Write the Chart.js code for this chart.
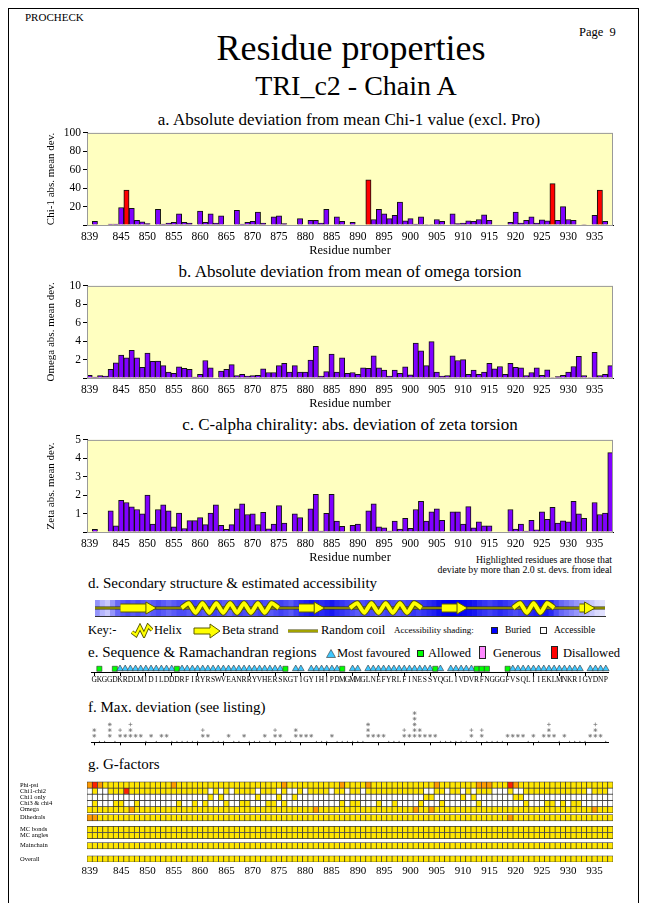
<!DOCTYPE html>
<html>
<head>
<meta charset="utf-8">
<script src="https://cdn.jsdelivr.net/npm/chart.js@4.4.0/dist/chart.umd.min.js"></script>
<style>
body { margin: 0; background: #fff; width: 645px; height: 903px; position: relative; overflow: hidden; font-family: 'Liberation Serif', 'Times New Roman', serif; }
.t { position: absolute; white-space: nowrap; line-height: 1; color: #000; }
.c { transform: translateX(-50%); }
.r { transform: translateX(-100%); }
canvas, svg { position: absolute; }
#frame { position: absolute; left: 8px; top: 8px; width: 629px; height: 900px; border: 1px solid #000; }
.sq { position: absolute; border: 1px solid #222; box-sizing: border-box; }
</style>
</head>
<body>
<div id="frame"></div>
<div class="t" style="left:25px;top:12px;font-size:11px">PROCHECK</div>
<div class="t" style="left:579px;top:26px;font-size:12.5px">Page&nbsp;&nbsp;9</div>
<div class="t c" style="left:351px;top:30px;font-size:36px">Residue properties</div>
<div class="t c" style="left:356px;top:72px;font-size:28px">TRI_c2 - Chain A</div>

<div class="t c" style="left:349px;top:111px;font-size:17px">a. Absolute deviation from mean Chi-1 value (excl. Pro)</div>
<div class="t c" style="left:350px;top:263px;font-size:17px">b. Absolute deviation from mean of omega torsion</div>
<div class="t c" style="left:350px;top:416px;font-size:17px">c. C-alpha chirality: abs. deviation of zeta torsion</div>
<div class="t r" style="left:612px;top:555px;font-size:9.8px">Highlighted residues are those that</div>
<div class="t r" style="left:612px;top:565px;font-size:9.8px">deviate by more than 2.0 st. devs. from ideal</div>

<div class="t" style="left:88px;top:576px;font-size:15px">d. Secondary structure &amp; estimated accessibility</div>
<div class="t" style="left:88px;top:624px;font-size:12.5px">Key:-</div>
<svg style="left:131px;top:623px" width="22" height="15"><polyline points="1,9 5,12 9,4 13,12 17,3 21,7" fill="none" stroke="#5a5a00" stroke-width="4"/><polyline points="1,9 5,12 9,4 13,12 17,3 21,7" fill="none" stroke="#ffff00" stroke-width="2.2"/></svg>
<div class="t" style="left:154px;top:624px;font-size:12.5px">Helix</div>
<svg style="left:193px;top:623px" width="28" height="16"><polygon points="1,5 17,5 17,1 27,8 17,15 17,11 1,11" fill="#ffff00" stroke="#5a5a00" stroke-width="1"/></svg>
<div class="t" style="left:222px;top:624px;font-size:12.5px">Beta strand</div>
<svg style="left:288px;top:627px" width="32" height="8"><line x1="0" y1="4" x2="30" y2="4" stroke="#444400" stroke-width="3"/><line x1="0" y1="4" x2="30" y2="4" stroke="#ffff00" stroke-width="1"/></svg>
<div class="t" style="left:321px;top:624px;font-size:12.5px">Random coil</div>
<div class="t" style="left:394px;top:626px;font-size:9px">Accessibility shading:</div>
<div class="sq" style="left:491px;top:627px;width:7px;height:7px;background:#0000ff"></div>
<div class="t" style="left:505px;top:626px;font-size:9.5px">Buried</div>
<div class="sq" style="left:540px;top:627px;width:7px;height:7px;background:#fff"></div>
<div class="t" style="left:554px;top:626px;font-size:9.5px">Accessible</div>

<div class="t" style="left:88px;top:645px;font-size:15px">e. Sequence &amp; Ramachandran regions</div>
<svg style="left:326px;top:649px" width="10" height="9"><polygon points="5,0.5 9.5,8.5 0.5,8.5" fill="#40c8ff" stroke="#333" stroke-width="0.6"/></svg>
<div class="t" style="left:337px;top:647px;font-size:12.5px">Most favoured</div>
<div class="sq" style="left:417px;top:650px;width:7px;height:7px;background:#00ff00"></div>
<div class="t" style="left:428px;top:647px;font-size:12.5px">Allowed</div>
<div class="sq" style="left:479px;top:646px;width:7px;height:13px;background:#ff88ff"></div>
<div class="t" style="left:493px;top:647px;font-size:12.5px">Generous</div>
<div class="sq" style="left:551px;top:646px;width:7px;height:13px;background:#ff0000"></div>
<div class="t" style="left:563px;top:647px;font-size:12.5px">Disallowed</div>

<div class="t" style="left:88px;top:700px;font-size:15px">f. Max. deviation (see listing)</div>
<div class="t" style="left:88px;top:757px;font-size:15px">g. G-factors</div>

<script>
// residue numbers 839..938
const residues = Array.from({length: 100}, (_, i) => 839 + i);
const xTickLabels = [839, 845, 850, 855, 860, 865, 870, 875, 880, 885, 890, 895, 900, 905, 910, 915, 920, 925, 930, 935];

// a. chi-1 abs deviation
const chi1Dev = [
  null, 4, null, null, 1, 1, 19, 38, 18, 5,
  3.5, 1.5, null, 17, 1, 2, 3, 12, 3, 2,
  null, 15, 3, 12, 2, 10, null, null, 16, 1,
  3, 4, 14, 2, null, 9, 10, 1.5, null, null,
  7, null, 5, 5, 2, 17, null, 9, 4, null,
  3, null, null, 49, 6, 17, 12, 7, 10.5, 25,
  4.5, 7, 1, 9, 0.5, 0.5, 6, 4, null, 12,
  1.5, 2, 4.5, 4, 6, 11, 5, null, null, null,
  3, 14, 2, 5, 9, 2, 5.5, 4.5, 45, 5,
  20, 6, 5, null, 0.5, null, 10.5, 38, 4, null
];
const chi1Outliers = [846, 892, 927, 936];

// b. omega abs deviation
const omegaDev = [
  0.3, 0.1, 0.25, 0.2, 0.95, 1.65, 2.5, 2.2, 3.0, 2.2,
  1.15, 2.7, 1.8, 1.85, 1.35, 0.65, 0.5, 1.2, 1.05, 0.95,
  0.1, 0.4, 1.9, 1.1, 0, 0.75, 0.95, 1.45, 0.25, 0.4,
  0.2, 0.25, 0.3, 1.0, 0.6, 0.6, 1.35, 1.6, 0.65, 1.35,
  0.65, 0.65, 1.95, 3.45, 0.2, 0.7, 2.6, 0.65, 2.2, 0.5,
  0.6, 0.4, 1.1, 1.05, 2.4, 1.1, 0.85, 0.2, 0.85, 0.5,
  1.2, 0.35, 3.8, 2.95, 1.35, 3.95, 0.65, 0.2, 0.25, 2.4,
  1.9, 2.0, 0.4, 0.85, 0.4, 0.65, 1.6, 1.0, 1.25, 0.4,
  1.6, 1.15, 1.1, 0.25, 0.6, 1.1, 0.3, 0.9, 0.05, 0.15,
  0.3, 0.65, 1.25, 2.35, 0.25, 0.05, 2.8, 0.25, 0.4, 1.35
];

// c. zeta abs deviation
const zetaDev = [
  null, 0.15, null, null, 1.15, 0.33, 1.72, 1.6, 1.36, 1.22,
  0.98, 2.0, 0.43, 1.22, 1.47, 1.15, 0.28, 1.03, 0.19, 0.62,
  0.62, 0.78, 0.4, 1.03, 1.47, 0.36, 0.14, 0.4, 1.26, 1.53,
  0.95, 0.98, 0.4, 1.07, 0.17, 0.43, 1.43, 0.48, null, 0.98,
  0.78, null, 1.26, 2.05, 0.05, 1.02, 2.05, 0.59, 0.31, null,
  0.36, 0.43, null, 1.15, 1.53, 0.28, 0.22, 0.05, 0.59, 0.16,
  0.74, 0.2, 1.22, 1.67, 0.59, 1.1, 1.26, 0.64, null, 1.1,
  1.1, 0.43, 1.38, 0.22, 0.55, 0.34, 0.34, null, null, null,
  1.22, 0.16, 0.43, 0.05, 0.64, 0.12, 1.1, 0.69, 1.34, 0.48,
  0.6, 0.55, 1.67, 0.98, 0.74, null, 1.6, 0.95, 1.03, 4.31
];

// d. secondary structure and accessibility (0 buried .. 1 accessible)
const helices = [[856, 874], [889, 902], [921, 928]];
const strands = [[844, 850], [879, 883], [907, 911], [934, 936]];
const accessibility = [
  0.7, 0.8, 0.85, 0.7, 0.55, 0.5, 0.45, 0.5, 0.45, 0.5,
  0.55, 0.5, 0.45, 0.5, 0.55, 0.5, 0.45, 0.45, 0.5, 0.4,
  0.45, 0.5, 0.45, 0.4, 0.45, 0.5, 0.55, 0.45, 0.4, 0.45,
  0.5, 0.45, 0.4, 0.45, 0.5, 0.45, 0.4, 0.45, 0.5, 0.4,
  0.3, 0.25, 0.2, 0.25, 0.3, 0.25, 0.2, 0.3, 0.35, 0.4,
  0.45, 0.5, 0.45, 0.4, 0.45, 0.5, 0.45, 0.4, 0.45, 0.5,
  0.45, 0.4, 0.35, 0.4, 0.35, 0.3, 0.25, 0.15, 0.05, 0.0,
  0.0, 0.05, 0.1, 0.15, 0.2, 0.3, 0.35, 0.4, 0.35, 0.3,
  0.35, 0.4, 0.45, 0.4, 0.35, 0.3, 0.25, 0.2, 0.2, 0.3,
  0.45, 0.55, 0.6, 0.65, 0.7, 0.75, 0.8, 0.85, 0.9, 0.92
];

// e. sequence and Ramachandran regions (F favoured, A allowed, - none)
const sequence = 'GKGGDKRDLMIDILDDDRFIRYRSWVEANRRYVHERSKGTIGYIHIPDMGMMGLNEFYRLFINESSYQGLIVDVRFNGGGFVSQLIIEKLMNKRIGYDNP'.split('');
const ramaRegion = ('-A--AFFFFF' + 'FFFFFFAFFF' + 'FFFFFFFFFF' + 'FFFFFFFA-F' + 'F-FFFFFFA-' +
                    'FF-FFFFFFF' + 'FFFFFFAF-F' + 'FFFFAAA---' + 'AFFFFFFFFF' + 'FFFFF-FFFF').split('');

// f. max deviation (number of stacked symbols)
const maxDevLevel = [
  2, 0, 0, 3, 0, 2, 1, 3, 1, 1,
  0, 1, 0, 1, 1, 0, 0, 0, 0, 0,
  0, 2, 1, 0, 0, 0, 1, 0, 0, 1,
  0, 0, 0, 1, 0, 2, 1, 0, 0, 2,
  1, 1, 1, 0, 0, 0, 1, 0, 0, 0,
  0, 0, 0, 3, 1, 1, 1, 0, 0, 0,
  2, 1, 5, 2, 1, 1, 1, 0, 0, 0,
  0, 0, 0, 2, 0, 2, 0, 0, 0, 0,
  1, 1, 1, 1, 0, 1, 0, 1, 3, 1,
  0, 1, 0, 0, 0, 0, 1, 3, 1, 0
];
const maxDevPlus = [844, 846, 860, 874, 899, 912, 914, 927, 936];

// g. G-factors (y good, o poor, r bad, w not applicable)
const gRowNames = ['Phi-psi', 'Chi1-chi2', 'Chi1 only', 'Chi3 & chi4', 'Omega', 'Dihedrals', 'MC bonds', 'MC angles', 'Mainchain', 'Overall'];
const gPhiPsi   = 'oroyyyyyyy' + 'yyyyyyoyyy' + 'yyyyyyyyyy' + 'yyyyyyyoyy' + 'yyyyyyyyoy' + 'yyyoyyyyyy' + 'yyyyyyoyyy' + 'yyyyoooyyy' + 'royyyyyyyy' + 'yyyyyyyyyy';
const gChi12    = 'wywwyyyryy' + 'yyyyyyyyyy' + 'yyywywywyy' + 'yywyyywyww' + 'ywyyyywyyw' + 'yywyyyyyyy' + 'yyyywwyywy' + 'ywywyyywww' + 'ywwyyyyyyy' + 'yyyyywyyyw';
const gChi1     = 'wwwwwwwwww' + 'wwwwwwwwww' + 'wwwywywwww' + 'wwywwwywwy' + 'wwwwwwwwww' + 'wwwwwwwwww' + 'wwwwyywwww' + 'wywywwwwww' + 'wyywwwwwww' + 'wwwwwwwwww';
const gChi34    = 'wywwwyywwy' + 'wwwwwwwyww' + 'ywywwwywwy' + 'ywwwyywyww' + 'wwwwwwwwyw' + 'yywwwywwyw' + 'wwwywwwyww' + 'wwwwywwwww' + 'wwwywwwyyw' + 'ywyywwwwww';
const gOmega    = 'yyyyyyyyoy' + 'yyyyyyyyyy' + 'yyyyyyyyyy' + 'yyyyyyyyyy' + 'yyyoyyyyyy' + 'yyyyyyyyyy' + 'yyoyyoyyyy' + 'yyyyyyyyyy' + 'yyyyyyyyyy' + 'yyyyyyoyyy';
const gDihed    = 'ooyyyyyyyy' + 'yyyyyyyyyy' + 'yyyyyyyyyy' + 'yyyyyyyyyy' + 'yyyyyyyyyy' + 'yyyyyyyyyy' + 'yyyyyyyyyy' + 'yyyyyyyyyy' + 'oyyyyyyyyy' + 'yyyyyyyyyy';
const gMcBonds  = 'yyyyyyyyyy' + 'yyyyyyyyyy' + 'yyyyyyyyyy' + 'yyyyyyyyyy' + 'yyyyyyyyyy' + 'yyyyyyyyyy' + 'yyyyyyyyyy' + 'yyyyyyyyyy' + 'yyyyyyyyyy' + 'yyyyyyyyyy';
const gMcAngles = 'yyyyyyyyyy' + 'yyyyyyyyyy' + 'yyyyyyyyyy' + 'yyyyyyyyyy' + 'yyyyyyyyyy' + 'yyyyyyyyyy' + 'yyyyyyyyyy' + 'yyyyyyyyyy' + 'yyyyyyyyyy' + 'yyyyyyyyyy';
const gMainch   = 'yyyyyyyyyy' + 'yyyyyyyyyy' + 'yyyyyyyyyy' + 'yyyyyyyyyy' + 'yyyyyyyyyy' + 'yyyyyyyyyy' + 'yyyyyyyyyy' + 'yyyyyyyyyy' + 'yyyyyyyyyy' + 'yyyyyyyyyy';
const gOverall  = 'yyyyyyyyyy' + 'yyyyyyyyyy' + 'yyyyyyyyyy' + 'yyyyyyyyyy' + 'yyyyyyyyyy' + 'yyyyyyyyyy' + 'yyyyyyyyyy' + 'yyyyyyyyyy' + 'yyyyyyyyyy' + 'yyyyyyyyyy';
const gRows = [gPhiPsi, gChi12, gChi1, gChi34, gOmega, gDihed, gMcBonds, gMcAngles, gMainch, gOverall];

// ---- layout / style ----
const gRowBands = [[1, 7.4], [7.4, 13.8], [13.8, 20.2], [20.2, 26.6], [26.6, 33], [35, 41.4], [47, 53.4], [53.4, 59.8], [64, 70.4], [77.6, 84]];
const gColors = { y: '#ffe600', o: '#ff9a00', r: '#ff2000', w: '#ffffff' };
const PURPLE = '#8000ff', RED = '#ff0000', YELLOW = '#ffff00', OLIVE = '#5a5a00';

Chart.defaults.font.family = 'Liberation Serif';
Chart.defaults.color = '#000';
Chart.defaults.animation = false;
Chart.defaults.responsive = false;
Chart.defaults.plugins.legend.display = false;
Chart.defaults.plugins.tooltip.enabled = false;

Chart.register({
  id: 'plotBg',
  beforeDraw(chart, args, opts) {
    if (!opts.color) return;
    const a = chart.chartArea, ctx = chart.ctx;
    ctx.save();
    ctx.fillStyle = opts.color;
    ctx.fillRect(a.left, a.top, a.width, a.height);
    ctx.restore();
  },
  afterDraw(chart, args, opts) {
    if (!opts.border) return;
    const a = chart.chartArea, ctx = chart.ctx;
    ctx.save();
    ctx.strokeStyle = opts.border;
    ctx.lineWidth = 1;
    ctx.strokeRect(a.left + 0.5, a.top + 0.5, a.width - 1, a.height);
    ctx.restore();
  }
});

function makeCanvas(left, top, w, h) {
  const cv = document.createElement('canvas');
  cv.width = w; cv.height = h;
  cv.style.left = left + 'px';
  cv.style.top = top + 'px';
  document.body.appendChild(cv);
  return cv;
}

function residueTick(v) {
  const r = this.getLabelForValue(v);
  return xTickLabels.includes(r) ? String(r) : '';
}

function devChart(top, values, outliers, yMax, yStep, yTitle) {
  new Chart(makeCanvas(41, top, 580, 134), {
    type: 'bar',
    data: {
      labels: residues,
      datasets: [{
        data: values,
        backgroundColor: residues.map(r => outliers.includes(r) ? RED : PURPLE),
        borderColor: '#111', borderWidth: 1,
        barPercentage: 1, categoryPercentage: 1
      }]
    },
    options: {
      layout: { padding: { top: 6, right: 8, left: 0, bottom: 0 } },
      plugins: { plotBg: { color: '#ffffc0', border: '#999' } },
      scales: {
        x: {
          grid: { display: false, drawTicks: false }, border: { color: '#000' },
          ticks: { autoSkip: false, maxRotation: 0, padding: 5, font: { size: 11.5 }, callback: residueTick },
          title: { display: true, text: 'Residue number', font: { size: 12.5 }, padding: { top: 1, bottom: 0 } },
          afterFit(s) { s.height = 33; }
        },
        y: {
          min: 0, max: yMax,
          ticks: { stepSize: yStep, font: { size: 11.5 }, padding: 2, callback: v => v === 0 ? '' : v },
          grid: { drawOnChartArea: false, tickLength: 4, color: '#000' },
          border: { color: '#000' },
          title: { display: true, text: yTitle, font: { size: 11 }, padding: { top: 4, bottom: 0 } },
          afterFit(s) { s.width = 46; }
        }
      }
    }
  });
}

devChart(124, chi1Dev, chi1Outliers, 100, 20, 'Chi-1 abs. mean dev.');
devChart(277, omegaDev, [], 10, 2, 'Omega abs. mean dev.');
devChart(431, zetaDev, [], 5, 1, 'Zeta abs. mean dev.');

// ---- d. secondary structure strip ----
function shade(v) {
  const c = Math.round(255 * Math.pow(v, 1.5));
  return `rgb(${c},${c},${Math.round(238 + 17 * v)})`;
}
const helixPts = [];
helices.forEach(([s, e]) => {
  const x0 = s - 0.5, x1 = e + 0.5;
  const n = Math.max(2, Math.round((x1 - x0) / 1.35));
  for (let k = 0; k <= n; k++) {
    const y = (k === 0 || k === n) ? 0.5 : (k % 2 ? 0.8 : 0.2);
    helixPts.push({ x: x0 + (x1 - x0) * k / n, y });
  }
  helixPts.push({ x: x1 + 0.01, y: null });
});
const strandPts = [], arrowPts = [];
strands.forEach(([s, e]) => {
  strandPts.push({ x: s - 0.5, y: 0.5 }, { x: e - 1.4, y: 0.5 }, { x: e - 1.39, y: null });
  arrowPts.push({ x: e - 0.83, y: 0.5 });
});

new Chart(makeCanvas(87, 592, 526, 32), {
  type: 'bar',
  data: {
    datasets: [
      { type: 'bar', data: residues.map(r => ({ x: r, y: 1 })), backgroundColor: accessibility.map(shade),
        borderWidth: 0, barPercentage: 1, categoryPercentage: 1, order: 10 },
      { type: 'line', data: [{ x: 838.5, y: 0.5 }, { x: 938.5, y: 0.5 }], borderColor: '#333300', borderWidth: 3, pointRadius: 0, order: 9 },
      { type: 'line', data: [{ x: 838.5, y: 0.5 }, { x: 938.5, y: 0.5 }], borderColor: '#d8d800', borderWidth: 1, pointRadius: 0, order: 8 },
      { type: 'line', data: helixPts, borderColor: OLIVE, borderWidth: 6, pointRadius: 0, tension: 0.2, order: 6 },
      { type: 'line', data: helixPts, borderColor: YELLOW, borderWidth: 4, pointRadius: 0, tension: 0.2, order: 5 },
      { type: 'line', data: strandPts, borderColor: OLIVE, borderWidth: 9, pointRadius: 0, borderCapStyle: 'butt', order: 4 },
      { type: 'line', data: strandPts, borderColor: YELLOW, borderWidth: 7, pointRadius: 0, borderCapStyle: 'butt', order: 3 },
      { type: 'line', data: arrowPts, showLine: false, pointStyle: 'triangle', rotation: 90, pointRadius: 7,
        pointBackgroundColor: YELLOW, pointBorderColor: OLIVE, pointBorderWidth: 1, order: 1, clip: false }
    ]
  },
  options: {
    layout: { padding: { top: 4, right: 0, left: 0, bottom: 0 } },
    scales: {
      x: { type: 'linear', min: 838.5, max: 938.5, offset: false,
           ticks: { display: false }, grid: { display: false, drawTicks: false },
           border: { display: true, dash: [1, 2], color: '#333' },
           afterFit(s) { s.height = 4; } },
      y: { min: 0, max: 1, display: false }
    }
  }
});

// ---- e. sequence & Ramachandran regions ----
new Chart(makeCanvas(87, 660, 526, 26), {
  type: 'line',
  data: {
    labels: sequence,
    datasets: [{
      data: ramaRegion.map(g => g === '-' ? null : 0),
      showLine: false,
      pointStyle: ramaRegion.map(g => g === 'A' ? 'rect' : 'triangle'),
      pointRadius: ramaRegion.map(g => g === 'A' ? 3.6 : 3.8),
      pointBackgroundColor: ramaRegion.map(g => g === 'A' ? '#00ff00' : '#40c8ff'),
      pointBorderColor: '#333', pointBorderWidth: 0.6
    }]
  },
  options: {
    layout: { padding: { top: 3, right: 0, left: 0, bottom: 0 } },
    scales: {
      x: { offset: true,
           ticks: { autoSkip: false, maxRotation: 0, padding: 0, font: { size: 7.5 } },
           grid: { drawOnChartArea: false, tickLength: 3, color: c => c.index % 5 === 0 ? '#000' : 'rgba(0,0,0,0)' },
           border: { color: '#000' },
           afterFit(s) { s.height = 13; } },
      y: { min: -1, max: 1, display: false }
    }
  }
});

// ---- f. max deviation ----
const fSets = [{
  data: maxDevLevel.map(d => d === 0 ? 0 : null), showLine: false,
  pointStyle: 'circle', pointRadius: 0.6, pointBackgroundColor: '#666', pointBorderWidth: 0
}];
for (let L = 1; L <= 5; L++) {
  fSets.push({
    data: maxDevLevel.map(d => d >= L ? L : null), showLine: false,
    pointStyle: residues.map((r, i) => (maxDevLevel[i] === L && maxDevPlus.includes(r)) ? 'cross' : 'star'),
    pointRadius: 1.9, pointBorderColor: '#777', pointBorderWidth: 0.7
  });
}
new Chart(makeCanvas(87, 705, 526, 42), {
  type: 'line',
  data: { labels: residues, datasets: fSets },
  options: {
    layout: { padding: { top: 4, right: 0, left: 0, bottom: 0 } },
    scales: {
      x: { offset: true, ticks: { display: false },
           grid: { drawOnChartArea: false, tickLength: 3, color: c => c.index % 5 === 0 ? '#000' : 'rgba(0,0,0,0)' },
           border: { color: '#000' },
           afterFit(s) { s.height = 4; } },
      y: { min: -0.15, max: 5.6, display: false }
    }
  }
});

// ---- g. G-factors ----
new Chart(makeCanvas(20, 775, 600, 105), {
  type: 'bar',
  data: {
    labels: residues,
    datasets: gRows.map((row, k) => ({
      data: residues.map(() => gRowBands[k]),
      backgroundColor: row.split('').map(ch => gColors[ch]),
      borderColor: '#333', borderWidth: 0.7, borderSkipped: false,
      barPercentage: 1, categoryPercentage: 1, grouped: false
    }))
  },
  options: {
    layout: { padding: { top: 3, right: 7, left: 0, bottom: 0 } },
    scales: {
      x: { grid: { display: false, drawTicks: false }, border: { display: false },
           ticks: { autoSkip: false, maxRotation: 0, padding: 3, font: { size: 11 }, callback: residueTick },
           afterFit(s) { s.height = 18; } },
      y: { min: 0, max: 84, reverse: true,
           grid: { display: false, drawTicks: false }, border: { display: false },
           ticks: { autoSkip: false, crossAlign: 'far', padding: 2, font: { size: 6.5 }, callback: (v, i) => gRowNames[i] },
           afterBuildTicks(s) { s.ticks = gRowBands.map(b => ({ value: (b[0] + b[1]) / 2 })); },
           afterFit(s) { s.width = 67; } }
    }
  }
});
</script>
</body>
</html>
